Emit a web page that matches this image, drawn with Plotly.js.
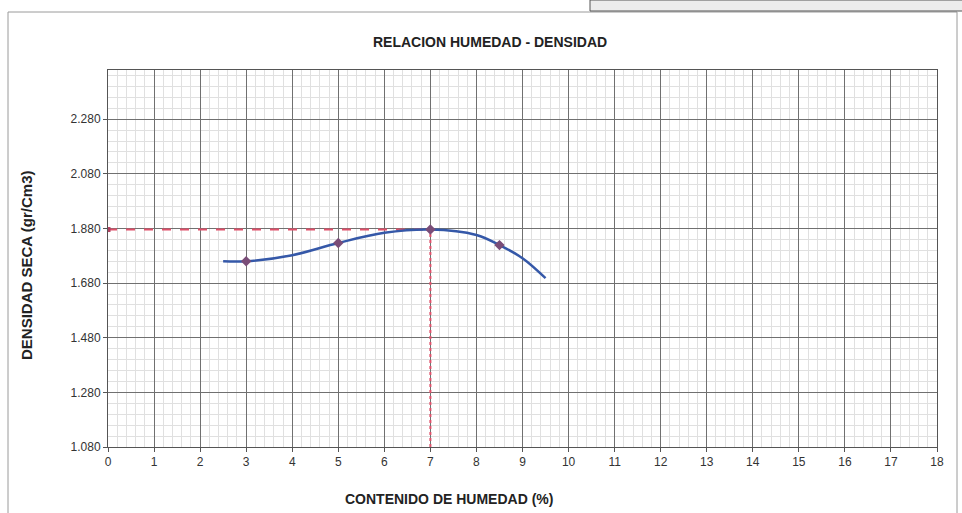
<!DOCTYPE html>
<html>
<head>
<meta charset="utf-8">
<script src="https://cdn.plot.ly/plotly-3.0.1.min.js"></script>
<style>html,body{margin:0;padding:0;background:#fff;}#chart{width:962px;height:513px;}</style>
</head>
<body>
<div id="chart"></div>
<script>
// Measured points (moisture %, dry density)
const moisture = [3, 5, 7, 8.5];
const density = [1.760, 1.827, 1.876, 1.819];
// Fitted curve
const curveX = [2.5, 3, 4, 5, 6, 7, 8, 8.5, 9, 9.5];
const curveY = [1.760, 1.760, 1.782, 1.827, 1.864, 1.876, 1.856, 1.819, 1.771, 1.698];
// Optimum reference
const optMoisture = 7;
const maxDensity = 1.876;
const yMin = 1.08;
const yTickVals = [1.08, 1.28, 1.48, 1.68, 1.88, 2.08, 2.28];
const xTickVals = [0,1,2,3,4,5,6,7,8,9,10,11,12,13,14,15,16,17,18];

const font = 'Liberation Sans, Arial, sans-serif';

const traces = [
  {x: [0, optMoisture], y: [maxDensity, maxDensity], mode: 'lines+markers',
   line: {color: '#e0506a', width: 2, dash: 'dash'},
   marker: {size: 5, color: '#b04060', symbol: 'square'}, hoverinfo: 'skip'},
  {x: [optMoisture, optMoisture], y: [yMin, maxDensity], mode: 'lines',
   line: {color: '#e0506a', width: 2, dash: 'dot'}, hoverinfo: 'skip'},
  {x: curveX, y: curveY, mode: 'lines', line: {color: '#3558a8', width: 2.5, shape: 'spline', smoothing: 1}},
  {x: moisture, y: density, mode: 'markers',
   marker: {size: 8, color: '#7a4d78', symbol: 'diamond'}}
];

const layout = {
  width: 962, height: 513,
  margin: {l: 108, r: 25, t: 70, b: 66},
  paper_bgcolor: '#ffffff', plot_bgcolor: '#ffffff',
  showlegend: false,
  font: {family: font, size: 12, color: '#333'},
  xaxis: {
    range: [0, 18], tickvals: xTickVals, ticktext: xTickVals.map(String),
    showgrid: true, gridcolor: '#707070', gridwidth: 1,
    minor: {dtick: 0.2, tick0: 0, showgrid: true, gridcolor: '#e0e0e0', gridwidth: 1},
    showline: true, linecolor: '#555', mirror: true, zeroline: false,
    ticks: 'outside', ticklen: 4, tickcolor: '#555',
    tickfont: {family: font, size: 12, color: '#333'}
  },
  yaxis: {
    range: [yMin, 2.46], tickvals: yTickVals, ticktext: yTickVals.map(v => v.toFixed(3)),
    showgrid: true, gridcolor: '#707070', gridwidth: 1,
    minor: {dtick: 0.04, tick0: 1.08, showgrid: true, gridcolor: '#e0e0e0', gridwidth: 1},
    showline: true, linecolor: '#555', mirror: true, zeroline: false,
    ticks: 'outside', ticklen: 4, tickcolor: '#555',
    tickfont: {family: font, size: 12, color: '#333'}
  },
  annotations: [
    {text: '<b>RELACION HUMEDAD - DENSIDAD</b>', xref: 'paper', yref: 'paper',
     x: (490 - 108) / 829, y: (447 - 42) / 377, showarrow: false,
     font: {family: font, size: 14, color: '#222'}, xanchor: 'center', yanchor: 'middle'},
    {text: '<b>CONTENIDO DE HUMEDAD (%)</b>', xref: 'paper', yref: 'paper',
     x: (449 - 108) / 829, y: (447 - 499) / 377, showarrow: false,
     font: {family: font, size: 14, color: '#222'}, xanchor: 'center', yanchor: 'middle'},
    {text: '<b>DENSIDAD SECA (gr/Cm3)</b>', xref: 'paper', yref: 'paper',
     x: (26 - 108) / 829, y: (447 - 266) / 377, showarrow: false, textangle: -90,
     font: {family: font, size: 15, color: '#222'}, xanchor: 'center', yanchor: 'middle'}
  ],
  shapes: [
    {type: 'rect', xref: 'paper', yref: 'paper',
     x0: (8 - 108) / 829, x1: (957 - 108) / 829, y0: (447 - 520) / 377, y1: (447 - 12) / 377,
     line: {color: '#9a9a9a', width: 1}, fillcolor: 'rgba(0,0,0,0)', layer: 'below'},
    {type: 'rect', xref: 'paper', yref: 'paper',
     x0: (590 - 108) / 829, x1: (965 - 108) / 829, y0: (447 - 11) / 377, y1: (447 - 0) / 377,
     line: {color: '#555', width: 1}, fillcolor: '#ececec', layer: 'above'}
  ]
};

Plotly.newPlot('chart', traces, layout, {displayModeBar: false, staticPlot: true});
</script>
</body>
</html>
